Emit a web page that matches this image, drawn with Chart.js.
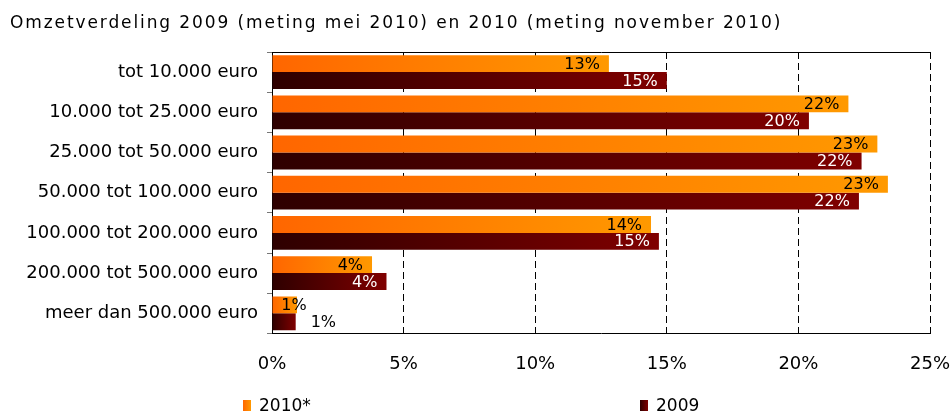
<!DOCTYPE html>
<html>
<head>
<meta charset="utf-8">
<script src="https://cdn.jsdelivr.net/npm/chart.js@4/dist/chart.umd.min.js"></script>
<style>
  body { margin: 0; background: #fff; }
  #wrap { position: relative; width: 952px; height: 414px; font-family: "DejaVu Sans", Verdana, sans-serif; }
  .lg { position: absolute; top: 395px; height: 20px; line-height: 20px; font-size: 17px; color: #000; }
  .lg i { position: absolute; left: 0; top: 5px; width: 8px; height: 11px; }
  .lg span { position: absolute; left: 16px; top: 0; white-space: nowrap; }
</style>
</head>
<body>
<div id="wrap">
  <canvas id="myChart" width="952" height="414"></canvas>
  <div class="lg" style="left:243px"><i style="background:linear-gradient(to right,#ff6600,#ff9900)"></i><span>2010*</span></div>
  <div class="lg" style="left:640px"><i style="background:linear-gradient(to right,#2e0000,#800000)"></i><span>2009</span></div>
</div>
<script>
const titleText = "Omzetverdeling 2009 (meting mei 2010) en 2010 (meting november 2010)";
const categories = [
  "tot 10.000 euro",
  "10.000 tot 25.000 euro",
  "25.000 tot 50.000 euro",
  "50.000 tot 100.000 euro",
  "100.000 tot 200.000 euro",
  "200.000 tot 500.000 euro",
  "meer dan 500.000 euro"
];
const values2010 = [12.8, 21.9, 23.0, 23.4, 14.4, 3.8, 0.95];
const values2009 = [15.0, 20.4, 22.4, 22.3, 14.7, 4.35, 0.9];
const xTicks = [0, 5, 10, 15, 20, 25];

const font = "DejaVu Sans";

function barGradient(from, to) {
  return function(c) {
    const chart = c.chart;
    const x = chart.scales.x;
    if (!chart.chartArea || !x || c.raw == null) return to;
    const x0 = x.getPixelForValue(0);
    const x1 = x.getPixelForValue(c.raw);
    const g = chart.ctx.createLinearGradient(x0, 0, Math.max(x1, x0 + 1), 0);
    g.addColorStop(0, from);
    g.addColorStop(1, to);
    return g;
  };
}

// title with letter spacing, drawn on the canvas
const titlePlugin = {
  id: "spacedTitle",
  afterDraw(chart) {
    const ctx = chart.ctx;
    ctx.save();
    ctx.font = "17px '" + font + "'";
    if ("letterSpacing" in ctx) ctx.letterSpacing = "1.9px";
    ctx.fillStyle = "#000";
    ctx.textAlign = "left";
    ctx.textBaseline = "alphabetic";
    ctx.fillText(titleText, 10, 28);
    ctx.restore();
  }
};

// percentage labels at the end of each bar
const valueLabels = {
  id: "valueLabels",
  afterDatasetsDraw(chart) {
    const ctx = chart.ctx;
    ctx.save();
    ctx.font = "16px '" + font + "'";
    ctx.textBaseline = "middle";
    chart.data.datasets.forEach((ds, di) => {
      chart.getDatasetMeta(di).data.forEach((bar, i) => {
        const text = Math.round(ds.data[i]) + "%";
        const w = ctx.measureText(text).width;
        const len = bar.x - bar.base;
        if (len >= w + 12) {
          ctx.textAlign = "right";
          ctx.fillStyle = di === 0 ? "#000" : "#fff";
          ctx.fillText(text, bar.x - 9, bar.y + 1);
        } else if (di === 0) {
          ctx.textAlign = "center";
          ctx.fillStyle = "#000";
          ctx.fillText(text, bar.x - 3, bar.y + 1);
        } else {
          ctx.textAlign = "left";
          ctx.fillStyle = "#000";
          ctx.fillText(text, bar.x + 15, bar.y + 1);
        }
      });
    });
    ctx.restore();
  }
};

Chart.defaults.font.family = font;
Chart.defaults.color = "#000";

const ctx = document.getElementById("myChart").getContext("2d");
const chart = new Chart(ctx, {
  type: "bar",
  data: {
    labels: categories,
    datasets: [
      {
        label: "2010*",
        data: values2010,
        backgroundColor: barGradient("#ff6600", "#ff9900"),
        categoryPercentage: 0.84,
        barPercentage: 1.0
      },
      {
        label: "2009",
        data: values2009,
        backgroundColor: barGradient("#2e0000", "#800000"),
        categoryPercentage: 0.84,
        barPercentage: 1.0
      }
    ]
  },
  options: {
    indexAxis: "y",
    responsive: false,
    animation: false,
    layout: { padding: { top: 52, right: 22, bottom: 19, left: 0 } },
    plugins: {
      legend: { display: false },
      title: { display: false },
      tooltip: { enabled: false }
    },
    scales: {
      x: {
        min: 0,
        max: 25,
        afterBuildTicks(scale) {
          scale.ticks = xTicks.map(v => ({ value: v }));
        },
        afterFit(scale) {
          scale.paddingLeft = 0;
          scale.paddingRight = 0;
        },
        ticks: {
          padding: 20,
          font: { size: 18 },
          color: "#000",
          callback: v => v + "%"
        },
        grid: {
          color: "#000",
          lineWidth: 1,
          drawTicks: false
        },
        border: { color: "#000", width: 1, dash: [7, 4] }
      },
      y: {
        afterFit(scale) {
          scale.width = 272;
        },
        ticks: {
          padding: 9,
          font: { size: 18 },
          color: "#000"
        },
        grid: {
          offset: true,
          drawTicks: true,
          tickLength: 5,
          tickColor: "#777",
          color: c => (c.index === 0 ? "#000" : "rgba(0,0,0,0)")
        },
        border: { color: "#000", width: 1 }
      }
    }
  },
  plugins: [titlePlugin, valueLabels]
});
</script>
</body>
</html>
